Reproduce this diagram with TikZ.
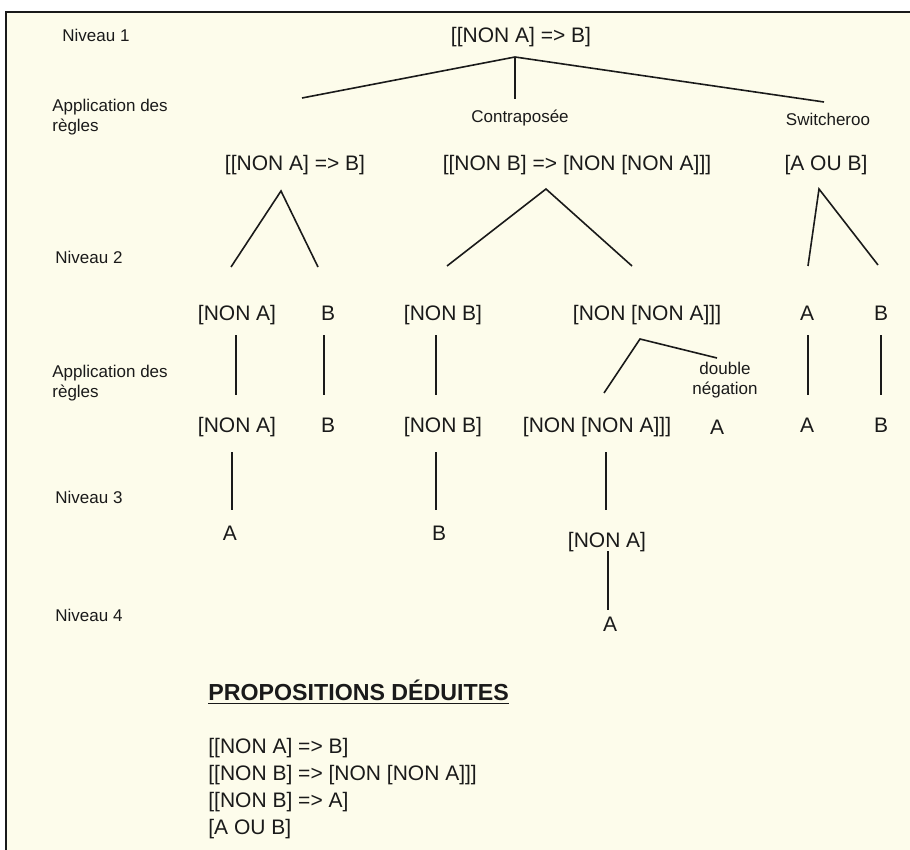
\documentclass[tikz,border=0pt]{standalone}
\usepackage{fontspec}
\setmainfont{Liberation Sans}
\usetikzlibrary{positioning}
\definecolor{cpapier}{HTML}{FDFCEB}
\definecolor{cencre}{HTML}{1A1A1A}
\tikzset{
  niveau/.style={anchor=west,inner sep=0pt,align=left,text=cencre,
                 font=\fontsize{8.5}{10}\selectfont},
  regle/.style={inner sep=0pt,align=center,text=cencre,
                font=\fontsize{8.5}{10}\selectfont},
  prop/.style={inner sep=0pt,text=cencre,text height=0.75em,text depth=0.21em,
               font=\fontsize{10.5}{13}\selectfont},
  trait/.style={draw=cencre,line width=0.8pt},
  filet/.style={draw=cencre,line width=0.6pt},
  cadre/.style={draw=cencre,line width=1pt},
}

\begin{document}
\begin{tikzpicture}[x=0.5pt,y=-0.5pt]
\useasboundingbox (0,0) rectangle (910,850);
\fill[cpapier] (6,12) rectangle (910,850);
\draw[cadre] (6,850) -- (6,12) -- (910,12);

% ---------------- colonne des niveaux ----------------
\node[niveau] (niv1) at (62,35)  {Niveau 1};
\node[niveau] (app1) at (52,117) {Application des\\règles};
\node[niveau] (niv2) at (55,257) {Niveau 2};
\node[niveau] (app2) at (52,383) {Application des\\règles};
\node[niveau] (niv3) at (55,497) {Niveau 3};
\node[niveau] (niv4) at (55,615) {Niveau 4};

% ---------------- niveau 1 ----------------
\node[prop] (p0) at (521,37) {[[NON A] => B]};
\node[regle] (contra) at (520,118) {Contraposée};
\node[regle] (switch) at (828,119) {Switcheroo};

% ---------------- niveau 2 ----------------
\node[prop] (p1) at (295,165) {[[NON A] => B]};
\node[prop] (p2) at (577,165) {[[NON B] => [NON [NON A]]]};
\node[prop] (p3) at (826,165) {[A OU B]};

\node[prop] (q1) at (237,315) {[NON A]};
\node[prop] (q2) at (328,315) {B};
\node[prop] (q3) at (443,315) {[NON B]};
\node[prop] (q4) at (647,315) {[NON [NON A]]]};
\node[prop] (q5) at (807,315) {A};
\node[prop] (q6) at (881,315) {B};

\node[regle] (dneg) at (725,380) {double\\négation};

% ---------------- niveau 3 ----------------
\node[prop] (r1) at (237,427) {[NON A]};
\node[prop] (r2) at (328,427) {B};
\node[prop] (r3) at (443,427) {[NON B]};
\node[prop] (r4) at (597,427) {[NON [NON A]]]};
\node[prop] (r5) at (717,429) {A};
\node[prop] (r6) at (807,427) {A};
\node[prop] (r7) at (881,427) {B};

\node[prop] (s1) at (230,535) {A};
\node[prop] (s2) at (439,535) {B};
\node[prop] (s3) at (607,542) {[NON A]};

% ---------------- niveau 4 ----------------
\node[prop] (t1) at (610,626) {A};

% ---------------- points des traits ----------------
\coordinate (a0) at (515,57);
\coordinate (a1) at (302,98);
\coordinate (a2) at (515,99);
\coordinate (a3) at (824,102);
\coordinate (b0) at (281,191);
\coordinate (b1) at (231,267);
\coordinate (b2) at (318,267);
\coordinate (c0) at (546,189);
\coordinate (c1) at (447,266);
\coordinate (c2) at (632,266);
\coordinate (d0) at (819,189);
\coordinate (d1) at (808,266);
\coordinate (d2) at (878,265);
\coordinate (e0) at (640,339);
\coordinate (e1) at (604,393);
\coordinate (e2) at (717,358);

\draw[trait] (a1) -- (a0) -- (a3);
\draw[trait] (a0) -- (a2);
\draw[trait] (b1) -- (b0) -- (b2);
\draw[trait] (c1) -- (c0) -- (c2);
\draw[trait] (d1) -- (d0) -- (d2);
\draw[trait] (e1) -- (e0) -- (e2);

% traits verticaux
\draw[filet] (236,335) -- (236,395);
\draw[filet] (324,335) -- (324,395);
\draw[filet] (436,335) -- (436,395);
\draw[filet] (808,335) -- (808,395);
\draw[filet] (881,335) -- (881,395);
\draw[filet] (232,452) -- (232,510);
\draw[filet] (436,452) -- (436,510);
\draw[filet] (606,452) -- (606,510);
\draw[filet] (608,551) -- (608,610);

% ---------------- propositions déduites ----------------
\node[inner sep=0pt,anchor=west,text=cencre,font=\fontsize{11.6}{13}\selectfont\bfseries] (titre) at (208,692)
  {\underline{PROPOSITIONS DÉDUITES}};
\node[inner sep=0pt,anchor=west,align=left,text=cencre,font=\fontsize{10.5}{13.5}\selectfont] (liste) at (208,789)
  {[[NON A] => B]\\{}[[NON B] => [NON [NON A]]]\\{}[[NON B] => A]\\{}[A OU B]};

\end{tikzpicture}
\end{document}
